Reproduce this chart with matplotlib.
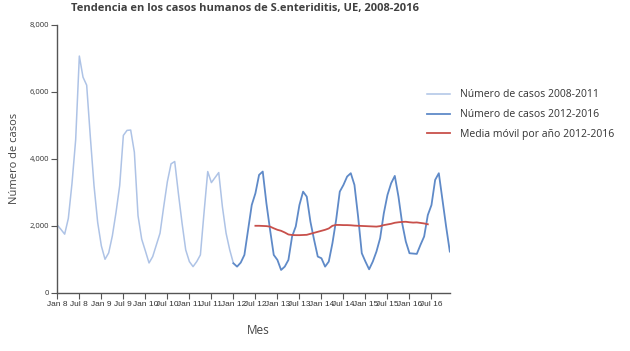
import matplotlib
matplotlib.use('Agg')
import matplotlib.pyplot as plt
from matplotlib.ticker import FuncFormatter

plt.rcParams.update({'font.family': ['Open Sans', 'DejaVu Sans'], 'axes.edgecolor': '#555555',
                     'xtick.color': '#555555', 'ytick.color': '#555555'})

light = '#aec3e6'
dark = '#5f8ac8'
red = '#c8504b'

# monthly cases, Jan 2008 (month 0) to Jan 2012 (month 48)
months_0811 = list(range(0, 49))
cases_0811 = [2020, 1890, 1750, 2220, 3270, 4570, 7070, 6440, 6200, 4650, 3200, 2100,
              1400, 1000, 1190, 1700, 2400, 3200, 4700, 4850, 4860, 4200, 2300, 1600,
              1250, 890, 1080, 1430, 1780, 2570, 3320, 3850, 3920, 2970, 2080, 1280,
              930, 780, 930, 1130, 2400, 3620, 3290, 3440, 3590, 2570, 1780, 1280,
              880]

# monthly cases, Jan 2012 (month 48) to Dec 2016 (month 107)
months_1216 = list(range(48, 108))
cases_1216 = [880, 780, 900, 1130, 1875, 2620, 2970, 3520, 3620, 2670, 1875, 1130,
              980, 680, 780, 980, 1680, 1980, 2620, 3020, 2870, 2120, 1580, 1080,
              1030, 780, 930, 1480, 2170, 3020, 3220, 3470, 3570, 3220, 2270, 1180,
              930, 700, 930, 1230, 1630, 2370, 2920, 3270, 3490, 2870, 2080, 1530,
              1180, 1170, 1160, 1430, 1680, 2320, 2620, 3370, 3570, 2770, 1970, 1230]

# 12-month moving average, Jul 2012 (month 54) to Jun 2016 (month 101)
months_ma = list(range(54, 102))
moving_avg = [2000, 2000, 1995, 1990, 1975, 1925, 1880, 1850, 1800, 1740, 1725, 1720,
              1720, 1725, 1730, 1760, 1790, 1820, 1850, 1880, 1920, 2000, 2025, 2025,
              2020, 2020, 2015, 2005, 2000, 1995, 1990, 1985, 1980, 1975, 1990, 2020,
              2040, 2060, 2090, 2105, 2115, 2120, 2105, 2095, 2100, 2085, 2070, 2045]

tick_months = list(range(0, 108, 6))
tick_labels = ['Jan 8', 'Jul 8', 'Jan 9', 'Jul 9', 'Jan 10', 'Jul 10', 'Jan 11', 'Jul 11',
               'Jan 12', 'Jul 12', 'Jan 13', 'Jul 13', 'Jan 14', 'Jul 14', 'Jan 15', 'Jul 15',
               'Jan 16', 'Jul 16']

fig = plt.figure(figsize=(6.3, 3.51), dpi=100)
ax = fig.add_axes([0.091, 0.166, 0.623, 0.763])

ax.plot(months_0811, cases_0811, color=light, lw=1.1, label='Número de casos 2008-2011')
ax.plot(months_1216, cases_1216, color=dark, lw=1.3, label='Número de casos 2012-2016')
ax.plot(months_ma, moving_avg, color=red, lw=1.3, label='Media móvil por año 2012-2016')

ax.set_xlim(0, 107)
ax.set_ylim(0, 8000)
ax.set_yticks(range(0, 8001, 2000))
ax.yaxis.set_major_formatter(FuncFormatter(lambda v, p: '{:,.0f}'.format(v)))
ax.set_xticks(tick_months)
ax.set_xticklabels(tick_labels)
ax.tick_params(length=4, width=0.8, pad=2, labelcolor='#333333')
ax.tick_params(axis='y', labelsize=5.5)
for t in ax.get_xticklabels():
    t.set_family(['Liberation Sans', 'DejaVu Sans'])
    t.set_fontsize(6)
ax.spines['top'].set_visible(False)
ax.spines['right'].set_visible(False)
for s in ['left', 'bottom']:
    ax.spines[s].set_linewidth(1.0)

ax.set_ylabel('Número de casos', fontsize=8, color='#444444', labelpad=7)
fig.text(258 / 630, 1 - 330 / 351, 'Mes', fontsize=8.5, color='#444444', ha='center', va='center')
fig.text(245 / 630, 1 - 8 / 351, 'Tendencia en los casos humanos de S.enteriditis, UE, 2008-2016',
         fontsize=8, fontweight='bold', color='#404040', ha='center', va='center')

ax.legend(loc='upper left', bbox_to_anchor=(418 / 630, 1 - 80 / 351), bbox_transform=fig.transFigure,
          frameon=False, fontsize=7.5, handlelength=2.2, handletextpad=0.9, labelspacing=0.85,
          labelcolor='#333333')

fig.savefig('out.png', dpi=100)
